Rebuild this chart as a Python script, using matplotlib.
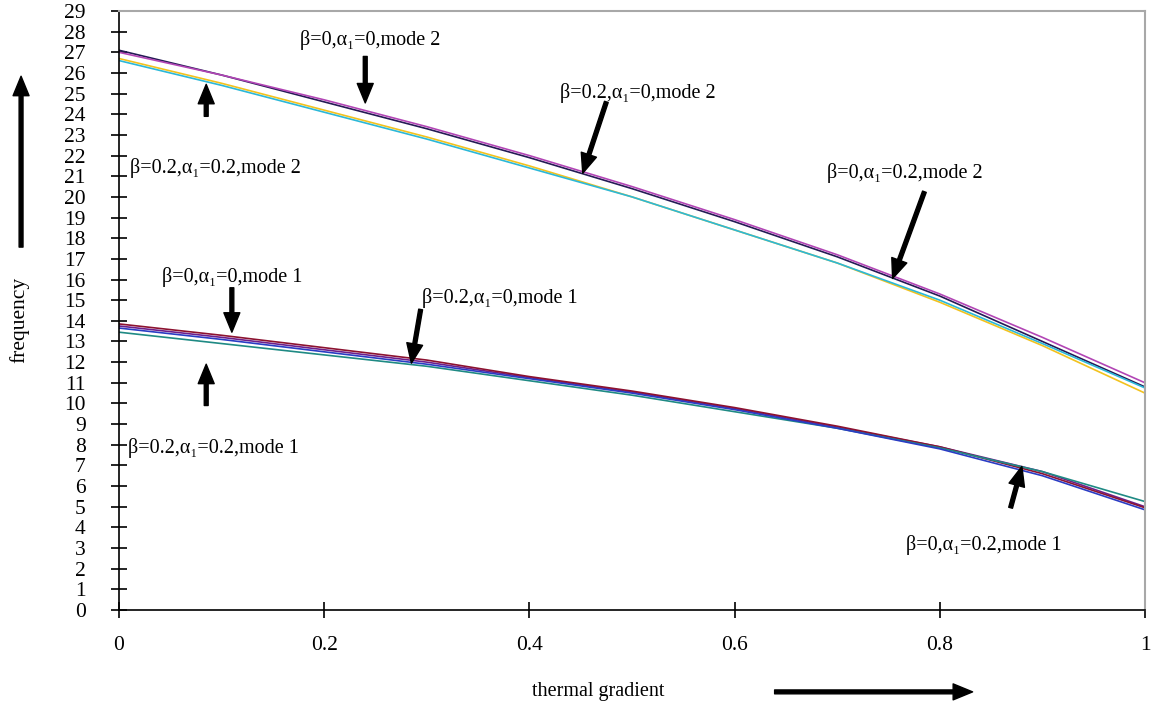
import matplotlib
matplotlib.use("Agg")
import numpy as np
from matplotlib import pyplot as plt

plt.rcParams['font.family'] = ['Liberation Serif', 'DejaVu Serif']

# thermal gradient
x = [0.0, 0.1, 0.2, 0.3, 0.4, 0.5, 0.6, 0.7, 0.8, 0.9, 1.0]

# mode 2 frequencies
m2_b0_a0 = [27.1, 25.9, 24.6, 23.3, 21.9, 20.4, 18.8, 17.1, 15.2, 13.0, 10.8]
m2_b02_a0 = [27.0, 25.9, 24.7, 23.4, 22.0, 20.5, 18.9, 17.2, 15.3, 13.2, 11.0]
m2_b0_a02 = [26.7, 25.5, 24.2, 22.9, 21.5, 20.0, 18.4, 16.8, 14.9, 12.8, 10.5]
m2_b02_a02 = [26.6, 25.4, 24.1, 22.8, 21.4, 20.0, 18.4, 16.8, 15.0, 12.9, 10.75]

# mode 1 frequencies
m1_b0_a0 = [13.75, 13.2, 12.6, 12.0, 11.25, 10.55, 9.75, 8.85, 7.9, 6.7, 5.0]
m1_b02_a0 = [13.85, 13.3, 12.7, 12.1, 11.3, 10.6, 9.8, 8.9, 7.9, 6.6, 4.95]
m1_b0_a02 = [13.45, 12.9, 12.35, 11.8, 11.1, 10.4, 9.6, 8.8, 7.85, 6.7, 5.25]
m1_b02_a02 = [13.65, 13.1, 12.5, 11.9, 11.2, 10.5, 9.7, 8.8, 7.8, 6.5, 4.85]

series = [
    (m2_b0_a0, '#241a55'),
    (m2_b02_a0, '#b245b5'),
    (m2_b0_a02, '#f2c21e'),
    (m2_b02_a02, '#2cb8d8'),
    (m1_b0_a0, '#6c1f8c'),
    (m1_b02_a0, '#8c1230'),
    (m1_b0_a02, '#1f8a84'),
    (m1_b02_a02, '#2a3cc4'),
]

x_ticks = [0, 0.2, 0.4, 0.6, 0.8, 1]
x_labels = ['0', '0.2', '0.4', '0.6', '0.8', '1']
y_ticks = list(range(0, 30))

fig = plt.figure(figsize=(11.51, 7.06), dpi=100)
ax = fig.add_axes([119/1151, 96/706, 1026/1151, 599/706])

for ys, c in series:
    ax.plot(x, ys, color=c, linewidth=1.2)

ax.set_xlim(0, 1)
ax.set_ylim(0, 29)
ax.set_xticks(x_ticks)
ax.set_xticklabels(x_labels)
ax.set_yticks(y_ticks)
ax.tick_params(axis='both', direction='inout', length=12, width=1.2,
               labelsize=15.5, colors='black')
ax.tick_params(axis='y', pad=18)
ax.tick_params(axis='x', pad=13)
for s in ['left', 'bottom']:
    ax.spines[s].set_linewidth(1.2)
for s in ['top', 'right']:
    ax.spines[s].set_color('#a8a8a8')
    ax.spines[s].set_linewidth(1.5)

arrow = dict(width=2.8, headwidth=11.5, headlength=14, color='black', shrink=0)
fs = 14.5

# mode 2 notes
ax.text(0.245, 27.6, 'β=0,α₁=0,mode 2', ha='center', va='center', fontsize=fs)
ax.annotate('', xy=(0.240, 24.55), xytext=(0.240, 26.8), arrowprops=arrow)
ax.annotate('', xy=(0.085, 25.45), xytext=(0.085, 23.9), arrowprops=arrow)
ax.text(0.0105, 21.4, 'β=0.2,α₁=0.2,mode 2', ha='left', va='center', fontsize=fs)
ax.text(0.506, 25.05, 'β=0.2,α₁=0,mode 2', ha='center', va='center', fontsize=fs)
ax.annotate('', xy=(0.452, 21.15), xytext=(0.475, 24.6), arrowprops=arrow)
ax.text(0.766, 21.15, 'β=0,α₁=0.2,mode 2', ha='center', va='center', fontsize=fs)
ax.annotate('', xy=(0.754, 16.05), xytext=(0.785, 20.25), arrowprops=arrow)

# mode 1 notes
ax.text(0.110, 16.1, 'β=0,α₁=0,mode 1', ha='center', va='center', fontsize=fs)
ax.annotate('', xy=(0.110, 13.45), xytext=(0.110, 15.6), arrowprops=arrow)
ax.annotate('', xy=(0.085, 11.9), xytext=(0.085, 9.9), arrowprops=arrow)
ax.text(0.009, 7.85, 'β=0.2,α₁=0.2,mode 1', ha='left', va='center', fontsize=fs)
ax.text(0.371, 15.1, 'β=0.2,α₁=0,mode 1', ha='center', va='center', fontsize=fs)
ax.annotate('', xy=(0.285, 11.95), xytext=(0.294, 14.55), arrowprops=arrow)
ax.text(0.843, 3.15, 'β=0,α₁=0.2,mode 1', ha='center', va='center', fontsize=fs)
ax.annotate('', xy=(0.880, 6.95), xytext=(0.869, 4.95), arrowprops=arrow)

# axis titles with arrows
fig.text(0.0165, 0.5467, 'frequency', rotation=90, ha='center', va='center', fontsize=15.5)
ax.annotate('', xy=(0.0183, 0.892), xytext=(0.0183, 0.650), xycoords='figure fraction',
            textcoords='figure fraction', arrowprops=arrow)
fig.text(0.52, 0.021, 'thermal gradient', ha='center', va='center', fontsize=14.5)
ax.annotate('', xy=(0.845, 0.020), xytext=(0.673, 0.020), xycoords='figure fraction',
            textcoords='figure fraction', arrowprops=arrow)

fig.savefig('out.png', dpi=100, facecolor='white')
